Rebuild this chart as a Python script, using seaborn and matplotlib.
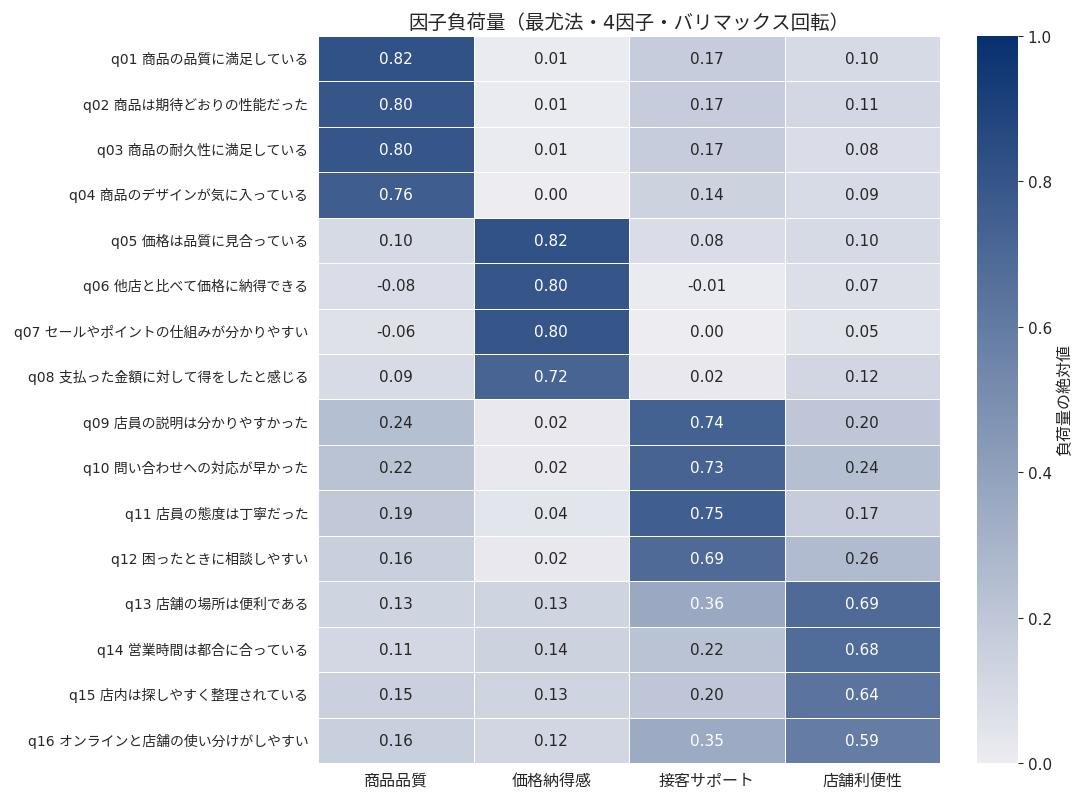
import numpy as np
import pandas as pd
import seaborn as sns
from matplotlib import pyplot as plt
from matplotlib.colors import LinearSegmentedColormap

items = ['q01 商品の品質に満足している', 'q02 商品は期待どおりの性能だった',
         'q03 商品の耐久性に満足している', 'q04 商品のデザインが気に入っている',
         'q05 価格は品質に見合っている', 'q06 他店と比べて価格に納得できる',
         'q07 セールやポイントの仕組みが分かりやすい', 'q08 支払った金額に対して得をしたと感じる',
         'q09 店員の説明は分かりやすかった', 'q10 問い合わせへの対応が早かった',
         'q11 店員の態度は丁寧だった', 'q12 困ったときに相談しやすい',
         'q13 店舗の場所は便利である', 'q14 営業時間は都合に合っている',
         'q15 店内は探しやすく整理されている', 'q16 オンラインと店舗の使い分けがしやすい']
factors = ['商品品質', '価格納得感', '接客サポート', '店舗利便性']

quality = [0.82, 0.80, 0.80, 0.76, 0.10, -0.08, -0.06, 0.09,
           0.24, 0.22, 0.19, 0.16, 0.13, 0.11, 0.15, 0.16]
price = [0.01, 0.01, 0.01, 0.00, 0.82, 0.80, 0.80, 0.72,
         0.02, 0.02, 0.04, 0.02, 0.13, 0.14, 0.13, 0.12]
service = [0.17, 0.17, 0.17, 0.14, 0.08, -0.01, 0.00, 0.02,
           0.74, 0.73, 0.75, 0.69, 0.36, 0.22, 0.20, 0.35]
store = [0.10, 0.11, 0.08, 0.09, 0.10, 0.07, 0.05, 0.12,
         0.20, 0.24, 0.17, 0.26, 0.69, 0.68, 0.64, 0.59]

loadings = pd.DataFrame(dict(zip(factors, [quality, price, service, store])), index=items)

sns.set_style('white')
plt.rcParams['font.family'] = ['DejaVu Sans', 'Noto Sans CJK JP']

cmap = LinearSegmentedColormap.from_list('navy', ['#ececf1', '#08306f'])

f = plt.figure(figsize=(10.84, 8.03), dpi=100)
ax = f.add_axes([0.2934, 0.0486, 0.5738, 0.9054])
cax = f.add_axes([0.9013, 0.0486, 0.0378, 0.9054])

sns.heatmap(loadings.abs(), annot=loadings.values, fmt='.2f', cmap=cmap,
            vmin=0, vmax=1, linewidths=0.5, linecolor='white',
            annot_kws={'fontsize': 11}, ax=ax, cbar_ax=cax,
            cbar_kws={'label': '負荷量の絶対値'})
ax.set_title('因子負荷量（最尤法・4因子・バリマックス回転）', fontsize=14)
ax.tick_params(axis='y', labelsize=10, rotation=0)
ax.tick_params(axis='x', labelsize=11.5, rotation=0)
cax.tick_params(labelsize=11)
cax.yaxis.label.set_size(11.5)
f.savefig('out.png', dpi=100)
